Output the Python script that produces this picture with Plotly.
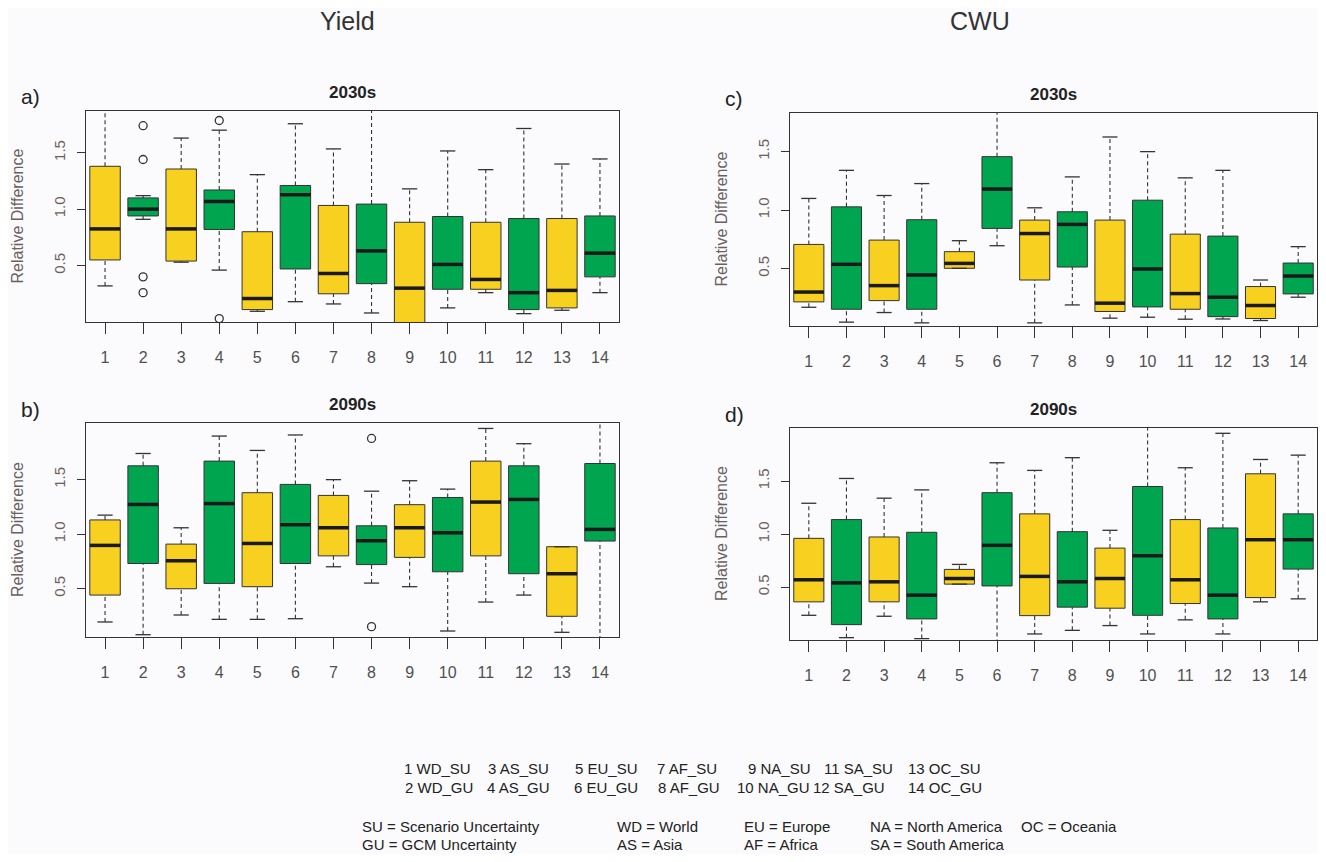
import plotly.graph_objects as go

W, H = 1326, 862          # window / reference size
OFF = 8                   # page body margin
FW, FH = W - 2 * OFF, H - 2 * OFF

positions = list(range(1, 15))
tick_labels = [str(i) for i in positions]
y_ticks = [0.5, 1.0, 1.5]
y_tick_text = ["0.5", "1.0", "1.5"]

# Yield 2030s (a)
a_lo = [0.32, 0.91, 0.53, 0.46, 0.095, 0.18, 0.16, 0.08, -0.20, 0.125, 0.26, 0.074, 0.104, 0.26]
a_q1 = [0.55, 0.94, 0.54, 0.82, 0.11, 0.47, 0.25, 0.34, -0.05, 0.29, 0.29, 0.11, 0.125, 0.40]
a_med = [0.825, 1.00, 0.825, 1.068, 0.208, 1.128, 0.43, 0.63, 0.30, 0.51, 0.377, 0.26, 0.28, 0.61]
a_q3 = [1.38, 1.10, 1.356, 1.17, 0.80, 1.21, 1.033, 1.045, 0.884, 0.935, 0.884, 0.917, 0.917, 0.94]
a_hi = [1.95, 1.12, 1.63, 1.70, 1.306, 1.757, 1.534, 1.95, 1.18, 1.516, 1.35, 1.715, 1.40, 1.445]
a_out_x = [2, 2, 2, 2, 4, 4]
a_out_y = [1.74, 1.44, 0.40, 0.26, 1.786, 0.03]

# Yield 2090s (b)
b_lo = [0.193, 0.076, 0.257, 0.217, 0.217, 0.223, 0.70, 0.55, 0.517, 0.11, 0.376, 0.44, 0.098, -0.10]
b_q1 = [0.44, 0.73, 0.498, 0.547, 0.517, 0.73, 0.80, 0.72, 0.786, 0.654, 0.80, 0.636, 0.245, 0.936]
b_med = [0.896, 1.272, 0.755, 1.28, 0.914, 1.086, 1.058, 0.939, 1.058, 1.012, 1.294, 1.318, 0.636, 1.043]
b_q3 = [1.13, 1.627, 0.908, 1.67, 1.38, 1.456, 1.355, 1.076, 1.27, 1.336, 1.67, 1.627, 0.884, 1.648]
b_hi = [1.174, 1.74, 1.058, 1.90, 1.768, 1.91, 1.50, 1.394, 1.49, 1.413, 1.97, 1.83, 0.884, 2.20]
b_out_x = [8, 8]
b_out_y = [1.878, 0.15]

# CWU 2030s (c)
c_lo = [0.17, 0.043, 0.125, 0.037, 0.503, 0.696, 0.037, 0.19, 0.077, 0.085, 0.068, 0.07, 0.057, 0.256]
c_q1 = [0.216, 0.153, 0.227, 0.153, 0.503, 0.844, 0.403, 0.514, 0.134, 0.173, 0.153, 0.09, 0.074, 0.284]
c_med = [0.30, 0.537, 0.355, 0.446, 0.545, 1.18, 0.80, 0.878, 0.205, 0.497, 0.287, 0.256, 0.185, 0.437]
c_q3 = [0.707, 1.028, 0.744, 0.918, 0.645, 1.457, 0.915, 0.986, 0.915, 1.085, 0.795, 0.778, 0.347, 0.548]
c_hi = [1.10, 1.34, 1.125, 1.227, 0.739, 1.95, 1.02, 1.284, 1.625, 1.50, 1.276, 1.34, 0.403, 0.688]
c_out_x = []
c_out_y = []

# CWU 2090s (d)
d_lo = [0.233, 0.022, 0.224, 0.013, 0.527, -0.10, 0.057, 0.091, 0.136, 0.057, 0.19, 0.057, 0.36, 0.388]
d_q1 = [0.36, 0.145, 0.36, 0.199, 0.527, 0.51, 0.23, 0.31, 0.30, 0.233, 0.344, 0.199, 0.40, 0.669]
d_med = [0.568, 0.539, 0.549, 0.423, 0.58, 0.893, 0.60, 0.549, 0.58, 0.795, 0.568, 0.423, 0.946, 0.946]
d_q3 = [0.959, 1.136, 0.972, 1.016, 0.666, 1.39, 1.19, 1.022, 0.867, 1.448, 1.136, 1.057, 1.568, 1.19]
d_hi = [1.29, 1.524, 1.338, 1.416, 0.713, 1.672, 1.60, 1.72, 1.035, 2.20, 1.625, 1.95, 1.703, 1.744]
d_out_x = []
d_out_y = []

col_titles = ["Yield", "CWU"]
panel_letters = ["a)", "b)", "c)", "d)"]
panel_periods = ["2030s", "2090s", "2030s", "2090s"]
y_title = "Relative Difference"

legend_row1 = ["1 WD_SU", "3 AS_SU", "5 EU_SU", "7 AF_SU", "9 NA_SU", "11 SA_SU", "13 OC_SU"]
legend_row2 = ["2 WD_GU", "4 AS_GU", "6 EU_GU", "8 AF_GU", "10 NA_GU", "12 SA_GU", "14 OC_GU"]
legend_row3 = ["SU = Scenario Uncertainty", "WD = World", "EU = Europe", "NA = North America", "OC = Oceania"]
legend_row4 = ["GU = GCM Uncertainty", "AS = Asia", "AF = Africa", "SA = South America"]

YELLOW = "#F8D020"
GREEN = "#00A550"
EDGE = "#333333"
BG = "#fbfbfd"
FONT = "Liberation Sans, Arial, sans-serif"

# layout in window pixels
panels = [
    dict(data=(a_lo, a_q1, a_med, a_q3, a_hi, a_out_x, a_out_y), x=(86, 619), y=(111, 322), yr=[0.0, 1.87]),
    dict(data=(b_lo, b_q1, b_med, b_q3, b_hi, b_out_x, b_out_y), x=(86, 619), y=(423, 637), yr=[0.055, 2.02]),
    dict(data=(c_lo, c_q1, c_med, c_q3, c_hi, c_out_x, c_out_y), x=(790, 1317), y=(113, 326), yr=[0.01, 1.83]),
    dict(data=(d_lo, d_q1, d_med, d_q3, d_hi, d_out_x, d_out_y), x=(790, 1317), y=(428, 640), yr=[0.0, 2.0]),
]


def px(x):
    return min(max((x - OFF) / FW, 0.0), 1.0)


def py(y):
    return min(max(1 - (y - OFF) / FH, 0.0), 1.0)


fig = go.Figure()
annotations = []
layout_axes = {}

for k, p in enumerate(panels):
    lo, q1, med, q3, hi, ox, oy = p["data"]
    n = k + 1
    xa = "x" if n == 1 else f"x{n}"
    ya = "y" if n == 1 else f"y{n}"
    xkey = "xaxis" if n == 1 else f"xaxis{n}"
    ykey = "yaxis" if n == 1 else f"yaxis{n}"

    # boxes (odd = scenario uncertainty, yellow; even = GCM uncertainty, green)
    for parity, color in ((1, YELLOW), (0, GREEN)):
        idx = [i for i, pos in enumerate(positions) if pos % 2 == parity]
        fig.add_trace(go.Box(
            x=[positions[i] for i in idx],
            q1=[q1[i] for i in idx],
            median=[med[i] for i in idx],
            q3=[q3[i] for i in idx],
            lowerfence=[q1[i] for i in idx],
            upperfence=[q3[i] for i in idx],
            width=0.8, fillcolor=color,
            line=dict(color=EDGE, width=1),
            whiskerwidth=0, boxpoints=False,
            xaxis=xa, yaxis=ya, showlegend=False, hoverinfo="skip",
        ))

    # dashed whiskers, solid caps, thick medians
    wx, wy = [], []
    cx, cy = [], []
    mx, my = [], []
    for i, pos in enumerate(positions):
        wx += [pos, pos, None, pos, pos, None]
        wy += [q3[i], hi[i], None, lo[i], q1[i], None]
        cx += [pos - 0.2, pos + 0.2, None, pos - 0.2, pos + 0.2, None]
        cy += [hi[i], hi[i], None, lo[i], lo[i], None]
        mx += [pos - 0.4, pos + 0.4, None]
        my += [med[i], med[i], None]
    fig.add_trace(go.Scatter(x=wx, y=wy, mode="lines", line=dict(color=EDGE, width=1.1, dash="4px,3px"),
                             xaxis=xa, yaxis=ya, showlegend=False, hoverinfo="skip"))
    fig.add_trace(go.Scatter(x=cx, y=cy, mode="lines", line=dict(color=EDGE, width=1.3),
                             xaxis=xa, yaxis=ya, showlegend=False, hoverinfo="skip"))
    fig.add_trace(go.Scatter(x=mx, y=my, mode="lines", line=dict(color="#1a1a1a", width=3.5),
                             xaxis=xa, yaxis=ya, showlegend=False, hoverinfo="skip"))
    if ox:
        fig.add_trace(go.Scatter(x=ox, y=oy, mode="markers",
                                 marker=dict(symbol="circle-open", size=8, color=EDGE, line=dict(width=1.3)),
                                 xaxis=xa, yaxis=ya, showlegend=False, hoverinfo="skip", cliponaxis=False))

    x0, x1 = p["x"]
    y0, y1 = p["y"]
    layout_axes[xkey] = dict(
        domain=[px(x0), px(x1)], range=[0.5, 14.5], anchor=ya,
        tickmode="array", tickvals=positions, ticktext=tick_labels,
        ticks="outside", ticklen=11, tickcolor=EDGE, tickwidth=1,
        showline=True, mirror=True, linecolor=EDGE, linewidth=1,
        showgrid=False, zeroline=False, ticklabelstandoff=10,
        tickfont=dict(family=FONT, size=16, color="#505050"),
    )
    layout_axes[ykey] = dict(
        domain=[py(y1), py(y0)], range=p["yr"], anchor=xa,
        tickmode="array", tickvals=y_ticks, ticktext=y_tick_text, tickangle=-90,
        ticks="outside", ticklen=8, tickcolor=EDGE, tickwidth=1,
        showline=True, mirror=True, linecolor=EDGE, linewidth=1,
        showgrid=False, zeroline=False, ticklabelstandoff=6,
        tickfont=dict(family=FONT, size=15, color="#6a6060"),
    )

    cxp = (x0 + x1) / 2
    annotations.append(dict(text=f"<b>{panel_periods[k]}</b>", x=px(cxp), y=py(y0 - 19), xref="paper", yref="paper",
                            showarrow=False, xanchor="center", yanchor="middle",
                            font=dict(family=FONT, size=17, color="#222222")))
    annotations.append(dict(text=panel_letters[k], x=px(x0 - 56), y=py(y0 - 14), xref="paper", yref="paper",
                            showarrow=False, xanchor="center", yanchor="middle",
                            font=dict(family=FONT, size=21, color="#222222")))
    annotations.append(dict(text=y_title, x=px(x0 - 69), y=py((y0 + y1) / 2), xref="paper", yref="paper",
                            showarrow=False, xanchor="center", yanchor="middle", textangle=-90,
                            font=dict(family=FONT, size=16, color="#6a6060")))

# column titles
for t, xc in zip(col_titles, (347, 980)):
    annotations.append(dict(text=t, x=px(xc), y=py(21), xref="paper", yref="paper", showarrow=False,
                            xanchor="center", yanchor="middle",
                            font=dict(family=FONT, size=25, color="#333333")))

leg_font = dict(family=FONT, size=15, color="#222222")
rows = [
    (legend_row1, [402, 486, 573, 655, 746, 822, 906], 768),
    (legend_row2, [403, 485, 572, 656, 735, 811, 906], 787),
    (legend_row3, [360, 615, 742, 868, 1019], 826),
    (legend_row4, [360, 615, 742, 868], 844),
]
for texts, xs, yy in rows:
    for t, xx in zip(texts, xs):
        annotations.append(dict(text=t, x=px(xx), y=py(yy), xref="paper", yref="paper", showarrow=False,
                                xanchor="left", yanchor="middle", font=leg_font))

fig.update_layout(
    width=FW, height=FH, margin=dict(l=0, r=0, t=0, b=0),
    paper_bgcolor=BG, plot_bgcolor=BG, boxmode="overlay", showlegend=False,
    annotations=annotations, **layout_axes,
)

fig.write_html("out.html")
